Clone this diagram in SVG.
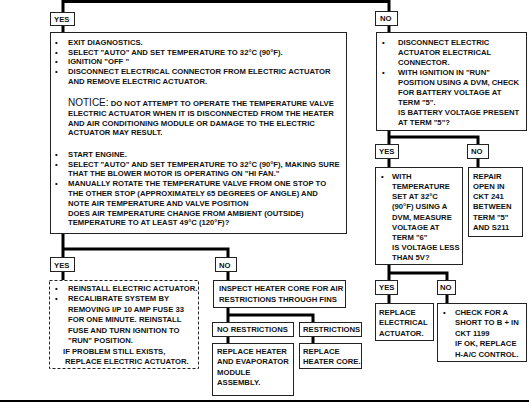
<svg xmlns="http://www.w3.org/2000/svg" width="529" height="415" viewBox="0 0 529 415">
<style>
.bx{fill:#fff;stroke:#222;stroke-width:1}
.dash{stroke-dasharray:3 2}
.cn{fill:none;stroke:#000;stroke-width:3}
text{font-family:"Liberation Sans",Arial,sans-serif;font-weight:bold;font-size:7.7px;fill:#111}
.nt{font-size:10px;font-weight:normal}
</style>
<rect width="529" height="415" fill="#fff"/>
<g id="connectors">
<path class="cn" d="M63,12V1.5H389V11"/>
<path class="cn" d="M63,25V32M389,25V32"/>
<path class="cn" d="M63,234V257M63,249H228V257M63,272V280M228,272V280"/>
<path class="cn" d="M228,308V322M228,315H313V322M228,337V343M313,337V343"/>
<path class="cn" d="M389,131V144M389,137H478V144M389,158V167M478,158V167"/>
<path class="cn" d="M389,265V280M389,273H447V280M389,294V303M447,294V303"/>
<path fill="none" stroke="#000" stroke-width="2" d="M0,401H529"/>
</g>
<g id="yes1"><rect class="bx" x="50.5" y="12.5" width="24" height="13"/><text x="54" y="21.7">YES</text></g>
<g id="no1"><rect class="bx" x="375.5" y="11.5" width="22" height="14"/><text x="380" y="21.2">NO</text></g>
<g id="mainLeft">
<rect class="bx" x="50.5" y="32.5" width="296" height="201"/>
<text x="55" y="44.7">•</text><text x="68" y="44.7">EXIT DIAGNOSTICS.</text>
<text x="55" y="54.5">•</text><text x="68" y="54.5">SELECT "AUTO" AND SET TEMPERATURE TO 32°C (90°F).</text>
<text x="55" y="64.3">•</text><text x="68" y="64.3">IGNITION "OFF "</text>
<text x="55" y="74.1">•</text><text x="68" y="74.1">DISCONNECT ELECTRICAL CONNECTOR FROM ELECTRIC ACTUATOR</text>
<text x="68" y="83.9">AND REMOVE ELECTRIC ACTUATOR.</text>
<text x="68" y="105.5"><tspan class="nt">NOTICE:</tspan>  DO NOT ATTEMPT TO OPERATE THE TEMPERATURE VALVE</text>
<text x="68" y="115.7">ELECTRIC ACTUATOR WHEN IT IS DISCONNECTED FROM THE HEATER</text>
<text x="68" y="125.5">AND AIR CONDITIONING MODULE OR DAMAGE TO THE ELECTRIC</text>
<text x="68" y="135.3">ACTUATOR MAY RESULT.</text>
<text x="55" y="156.7">•</text><text x="68" y="156.7">START ENGINE.</text>
<text x="55" y="166.5">•</text><text x="68" y="166.5">SELECT "AUTO" AND SET TEMPERATURE TO 32°C (90°F), MAKING SURE</text>
<text x="68" y="176.3">THAT THE BLOWER MOTOR IS OPERATING ON "HI FAN."</text>
<text x="55" y="186.1">•</text><text x="68" y="186.1">MANUALLY ROTATE THE TEMPERATURE VALVE FROM ONE STOP TO</text>
<text x="68" y="195.9">THE OTHER STOP (APPROXIMATELY 65 DEGREES OF ANGLE) AND</text>
<text x="68" y="205.7">NOTE AIR TEMPERATURE AND VALVE POSITION</text>
<text x="68" y="215.5">DOES AIR TEMPERATURE CHANGE FROM AMBIENT (OUTSIDE)</text>
<text x="68" y="225.3">TEMPERATURE TO AT LEAST 49°C (120°F)?</text>
</g>
<g id="yes2"><rect class="bx" x="50.5" y="257.5" width="24" height="14"/><text x="54" y="267.5">YES</text></g>
<g id="no2"><rect class="bx" x="215.5" y="257.5" width="21" height="14"/><text x="219" y="267.5">NO</text></g>
<g id="recal">
<rect class="bx dash" x="49.5" y="280.5" width="149" height="88"/>
<text x="55" y="290.7">•</text><text x="68" y="290.7">REINSTALL ELECTRIC ACTUATOR.</text>
<text x="55" y="301.2">•</text><text x="68" y="301.2">RECALIBRATE SYSTEM BY</text>
<text x="68" y="311.7">REMOVING I/P 10 AMP FUSE 33</text>
<text x="68" y="322.2">FOR ONE MINUTE.  REINSTALL</text>
<text x="68" y="332.7">FUSE AND TURN IGNITION TO</text>
<text x="68" y="343.2">"RUN" POSITION.</text>
<text x="63" y="353.7">IF PROBLEM STILL EXISTS,</text>
<text x="65" y="364.2">REPLACE ELECTRIC ACTUATOR.</text>
</g>
<g id="inspect">
<rect class="bx" x="213.5" y="280.5" width="132" height="27"/>
<text x="219" y="291.2">INSPECT HEATER CORE FOR AIR</text>
<text x="219" y="302.2">RESTRICTIONS THROUGH FINS</text>
</g>
<g id="noRestr"><rect class="bx" x="212.5" y="322.5" width="81" height="14"/><text x="217" y="332.2">NO RESTRICTIONS</text></g>
<g id="restr"><rect class="bx" x="299.5" y="322.5" width="62" height="14"/><text x="303" y="332.2">RESTRICTIONS</text></g>
<g id="replModule">
<rect class="bx" x="212.5" y="343.5" width="81" height="52"/>
<text x="217" y="353.7">REPLACE HEATER</text>
<text x="217" y="364.2">AND EVAPORATOR</text>
<text x="217" y="374.7">MODULE</text>
<text x="217" y="385.2">ASSEMBLY.</text>
</g>
<g id="replCore">
<rect class="bx" x="299.5" y="343.5" width="62" height="25"/>
<text x="303" y="353.7">REPLACE</text>
<text x="303" y="364.2">HEATER CORE.</text>
</g>
<g id="mainRight">
<rect class="bx" x="376.5" y="32.5" width="150" height="98"/>
<text x="382" y="44.7">•</text><text x="398" y="44.7">DISCONNECT ELECTRIC</text>
<text x="398" y="54.7">ACTUATOR ELECTRICAL</text>
<text x="398" y="64.7">CONNECTOR.</text>
<text x="382" y="74.7">•</text><text x="398" y="74.7">WITH IGNITION IN "RUN"</text>
<text x="398" y="84.7">POSITION USING A DVM, CHECK</text>
<text x="398" y="94.7">FOR BATTERY VOLTAGE AT</text>
<text x="398" y="104.7">TERM "5".</text>
<text x="398" y="114.7">IS BATTERY VOLTAGE PRESENT</text>
<text x="398" y="124.7">AT TERM "5"?</text>
</g>
<g id="yes3"><rect class="bx" x="375.5" y="144.5" width="23" height="14"/><text x="379" y="154.2">YES</text></g>
<g id="no3"><rect class="bx" x="467.5" y="144.5" width="21" height="14"/><text x="471" y="154.2">NO</text></g>
<g id="measure">
<rect class="bx" x="375.5" y="167.5" width="87" height="97"/>
<text x="381" y="178.7">•</text><text x="392" y="178.7">WITH</text>
<text x="392" y="188.9">TEMPERATURE</text>
<text x="392" y="199.1">SET AT 32°C</text>
<text x="392" y="209.3">(90°F) USING A</text>
<text x="392" y="219.5">DVM, MEASURE</text>
<text x="392" y="229.7">VOLTAGE AT</text>
<text x="392" y="239.9">TERM "6"</text>
<text x="392" y="250.1">IS VOLTAGE LESS</text>
<text x="392" y="260.3">THAN  5V?</text>
</g>
<g id="repair">
<rect class="bx" x="468.5" y="167.5" width="54" height="69"/>
<text x="473" y="178.7">REPAIR</text>
<text x="473" y="188.9">OPEN IN</text>
<text x="473" y="199.1">CKT 241</text>
<text x="473" y="209.3">BETWEEN</text>
<text x="473" y="219.5">TERM "5"</text>
<text x="473" y="229.7">AND S211</text>
</g>
<g id="yes4"><rect class="bx" x="375.5" y="280.5" width="22" height="14"/><text x="379" y="290.2">YES</text></g>
<g id="no4"><rect class="bx" x="437.5" y="280.5" width="18" height="14"/><text x="440" y="290.2">NO</text></g>
<g id="replAct">
<rect class="bx" x="375.5" y="303.5" width="58" height="37"/>
<text x="379" y="314.7">REPLACE</text>
<text x="379" y="325.2">ELECTRICAL</text>
<text x="379" y="335.7">ACTUATOR.</text>
</g>
<g id="checkShort">
<rect class="bx" x="437.5" y="303.5" width="89" height="58"/>
<text x="443" y="314.7">•</text><text x="455" y="314.7">CHECK FOR A</text>
<text x="455" y="325.2">SHORT TO B + IN</text>
<text x="455" y="335.7">CKT 1199</text>
<text x="455" y="346.2">IF OK, REPLACE</text>
<text x="455" y="356.7">H-A/C CONTROL.</text>
</g>
</svg>
